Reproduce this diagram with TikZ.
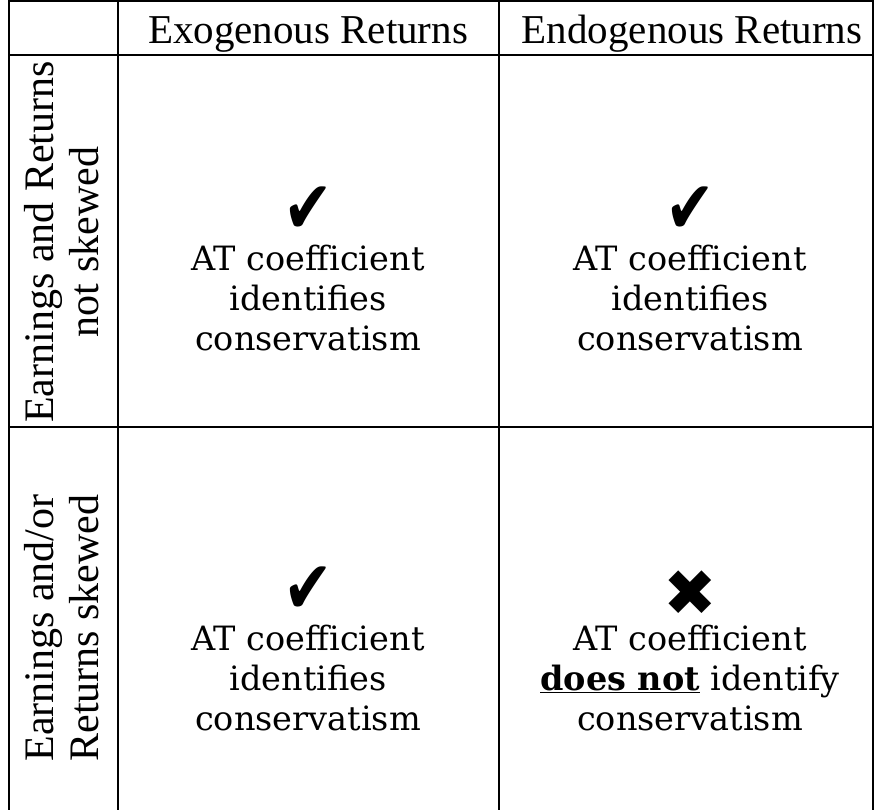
\documentclass[tikz,border=0pt]{standalone}
\usepackage{fontspec}
\setmainfont{DejaVu Serif}
\newfontfamily\headfont{Liberation Serif}
\newfontfamily\symfont{DejaVu Sans}
\usetikzlibrary{positioning}
\tikzset{gridline/.style={line width=2pt}}
\tikzset{hd/.style={font=\headfont\fontsize{41}{41}\selectfont, anchor=base, inner sep=0pt}}
\tikzset{side/.style={font=\headfont\fontsize{42}{45}\selectfont, align=center, rotate=90, inner sep=0pt}}
\tikzset{cell/.style={font=\fontsize{33.5}{40}\selectfont, align=center, inner sep=0pt}}
\tikzset{chk/.style={font=\symfont\fontsize{74}{74}\selectfont, xscale=0.8, inner sep=0pt}}
\tikzset{cross/.style={font=\symfont\fontsize{64}{64}\selectfont, inner sep=0pt}}

\begin{document}
\begin{tikzpicture}[x=1pt,y=-1pt]
          \useasboundingbox (0,0) rectangle (874,810);
          % grid
          \draw[gridline] (8.5,1.5) -- (873,1.5);
          \draw[gridline] (8.5,55) -- (873,55);
          \draw[gridline] (8.5,427) -- (873,427);
          \draw[gridline] (8.5,0.5) -- (8.5,810);
          \draw[gridline] (118,1.5) -- (118,810);
          \draw[gridline] (499,1.5) -- (499,810);
          \draw[gridline] (873,0.5) -- (873,810);
          % column heads
          \node[hd] (exo) at (308,44) {Exogenous Returns};
          \node[hd] (endo) at (692,44) {Endogenous Returns};
          % row heads
          \node[side] (plain) at (62,242) {Earnings and Returns\\not skewed};
          \node[side] (skew) at (62,628) {Earnings and/or\\Returns skewed};
          % cells
          \node[chk] (ok11) at (308,210) {✔};
          \node[cell] (txt11) at (308,298) {AT coefficient\\identifies\\conservatism};
          \node[chk] (ok12) at (690,210) {✔};
          \node[cell] (txt12) at (690,298) {AT coefficient\\identifies\\conservatism};
          \node[chk] (ok21) at (308,590) {✔};
          \node[cell] (txt21) at (308,678) {AT coefficient\\identifies\\conservatism};
          \node[cross] (no22) at (690,593) {✖};
          \node[cell] (txt22) at (690,678) {AT coefficient\\\underline{\textbf{does not}} identify\\conservatism};
        \end{tikzpicture}
\end{document}
